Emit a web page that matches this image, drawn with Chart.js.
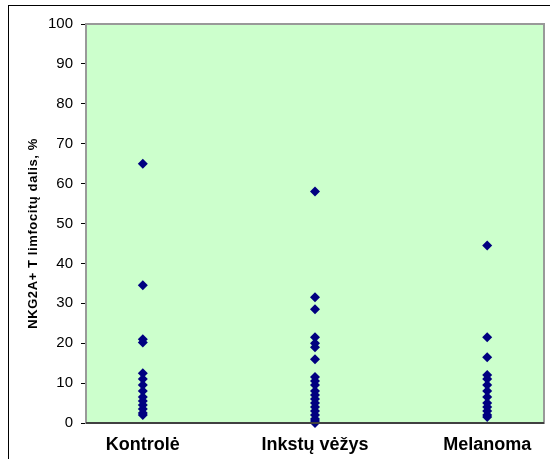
<!doctype html>
<html>
<head>
<meta charset="utf-8" />
<title>NKG2A+ T limfocitai</title>
<script src="https://cdn.jsdelivr.net/npm/chart.js@4"></script>
<style>
  body { margin: 0; background: #fff; }
  #wrap { position: relative; width: 550px; height: 459px; }
  #frame { position: absolute; left: 8px; top: 5px; width: 560px; height: 470px; border: 1px solid #000; box-sizing: border-box; }
  canvas { position: absolute; left: 0; top: 0; }
</style>
</head>
<body>
<div id="wrap">
  <div id="frame"></div>
  <canvas id="chart" width="550" height="459"></canvas>
</div>
<script>
// group names (x positions 1, 2, 3)
var groups = ["Kontrolė", "Inkstų vėžys", "Melanoma"];
// values, %
var kontrole = [65, 34.5, 21, 20.2, 12.5, 11, 9.5, 8, 6.5, 5.5, 4.5, 3.5, 2.5, 2];
var inkstu = [58, 31.5, 28.5, 21.5, 20, 19, 16, 11.5, 10.5, 9.5, 8, 7, 6, 5, 4, 3, 2, 1, 0.5, 0];
var melanoma = [44.5, 21.5, 16.5, 12, 11, 9.5, 8, 6.5, 5, 4, 3, 2, 1.5];
var yTicks = [0, 10, 20, 30, 40, 50, 60, 70, 80, 90, 100];
var yTitle = 'NKG2A+ T limfocitų dalis, %';

var points = [];
[kontrole, inkstu, melanoma].forEach(function (vals, i) {
    vals.forEach(function (v) { points.push({ x: i + 1, y: v }); });
});

var plotBg = {
    id: 'plotBg',
    beforeDraw: function (chart) {
        var a = chart.chartArea, c = chart.ctx;
        c.save();
        c.fillStyle = '#ccffcc';
        c.fillRect(a.left, a.top, a.right - a.left, a.bottom - a.top);
        c.restore();
    },
    afterDatasetsDraw: function (chart) {
        var a = chart.chartArea, c = chart.ctx;
        c.save();
        c.strokeStyle = '#999999';
        c.lineWidth = 2;
        c.strokeRect(a.left, a.top, a.right - a.left, a.bottom - a.top);
        c.strokeStyle = '#404040';
        c.beginPath();
        c.moveTo(a.left, a.bottom);
        c.lineTo(a.right, a.bottom);
        c.stroke();
        // y axis title, spaced out a bit like the original
        c.translate(33, (a.top + a.bottom) / 2 + 10);
        c.rotate(-Math.PI / 2);
        c.font = 'bold 13px "Liberation Sans", Arial';
        if ('letterSpacing' in c) c.letterSpacing = '0.6px';
        c.fillStyle = '#000';
        c.textAlign = 'center';
        c.textBaseline = 'middle';
        c.fillText(yTitle, 0, 0);
        c.restore();
    }
};

var ctx = document.getElementById('chart').getContext('2d');
var myChart = new Chart(ctx, {
    type: 'scatter',
    data: {
        datasets: [{
            data: points,
            pointStyle: 'rectRot',
            pointRadius: 5,
            pointHoverRadius: 5,
            backgroundColor: '#000080',
            borderColor: '#000080',
            borderWidth: 0
        }]
    },
    options: {
        responsive: false,
        animation: false,
        clip: false,
        layout: { padding: { left: 9, top: 24, right: 6, bottom: 0 } },
        plugins: { legend: { display: false }, tooltip: { enabled: false } },
        scales: {
            x: {
                type: 'linear',
                min: 0.67,
                max: 3.33,
                afterBuildTicks: function (axis) {
                    axis.ticks = groups.map(function (g, i) { return { value: i + 1 }; });
                },
                afterFit: function (axis) { axis.height = 36; },
                grid: { display: false },
                border: { display: false },
                ticks: {
                    padding: 3,
                    color: '#000',
                    font: { family: 'Liberation Sans, Arial', size: 18, weight: 'bold' },
                    maxRotation: 0,
                    callback: function (v) { return groups[Math.round(v) - 1]; }
                }
            },
            y: {
                min: 0,
                max: 100,
                afterBuildTicks: function (axis) {
                    axis.ticks = yTicks.map(function (v) { return { value: v }; });
                },
                afterFit: function (axis) { axis.width = 77; },
                grid: { drawOnChartArea: false, tickLength: 5, color: '#000', tickWidth: 1 },
                border: { display: false },
                ticks: {
                    padding: 8,
                    color: '#000',
                    font: { family: 'Liberation Sans, Arial', size: 15 }
                }
            }
        }
    },
    plugins: [plotBg]
});
</script>
</body>
</html>
